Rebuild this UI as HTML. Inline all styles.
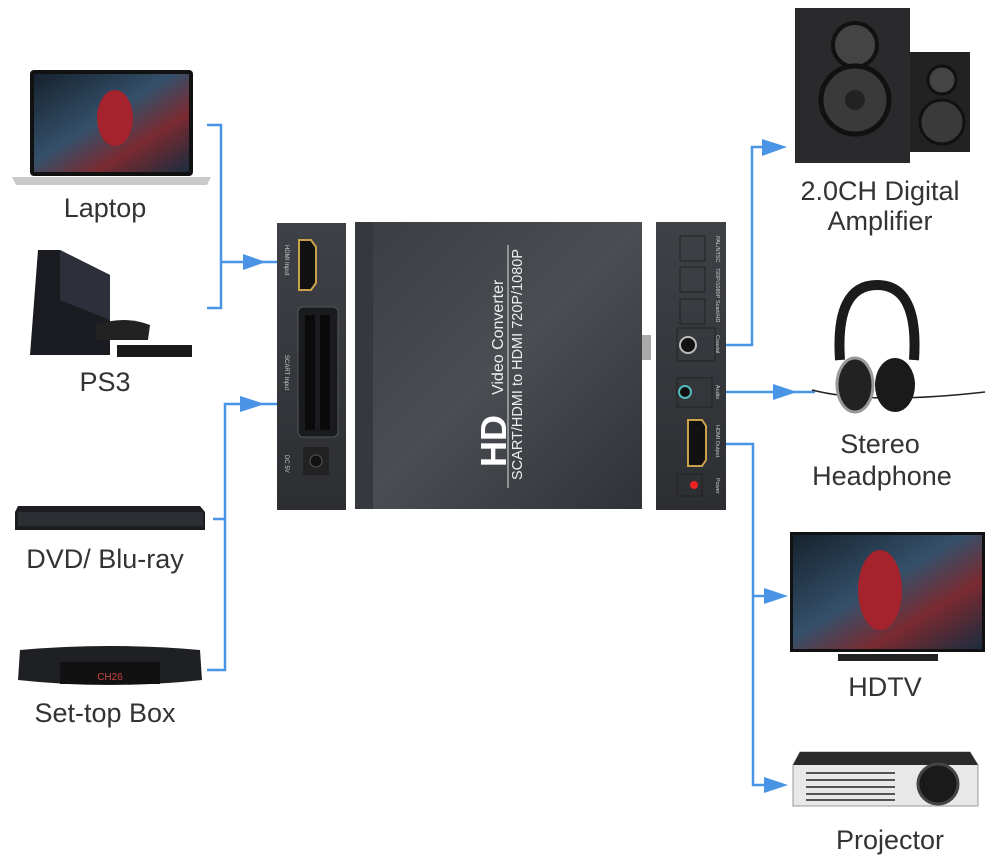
<!DOCTYPE html>
<html><head><meta charset="utf-8"><style>
html,body{margin:0;padding:0;background:#fff}
svg{display:block}
text{font-family:"Liberation Sans",sans-serif}
</style></head><body>
<svg width="999" height="867" viewBox="0 0 999 867" xmlns="http://www.w3.org/2000/svg">
<defs>
<linearGradient id="scr" x1="0" y1="0" x2="1" y2="1">
<stop offset="0" stop-color="#16222e"/><stop offset="0.45" stop-color="#34506a"/><stop offset="0.7" stop-color="#7a2a30"/><stop offset="1" stop-color="#1a2c3e"/>
</linearGradient>
<linearGradient id="box" x1="0" y1="0" x2="1" y2="1">
<stop offset="0" stop-color="#3a3d42"/><stop offset="0.5" stop-color="#4a4d52"/><stop offset="1" stop-color="#2f3236"/>
</linearGradient>
<linearGradient id="panel" x1="0" y1="0" x2="0" y2="1">
<stop offset="0" stop-color="#3e4146"/><stop offset="1" stop-color="#2c2e32"/>
</linearGradient>
</defs>

<g stroke="#4a94e6" stroke-width="2.5" fill="none">
<polyline points="207,125 221,125 221,308 207,308"/>
<line x1="221" y1="262" x2="300" y2="262"/>
<polyline points="213,519 225,519"/>
<polyline points="207,670 225,670 225,404 310,404"/>
<polyline points="700,345 752,345 752,147 770,147"/>
<line x1="700" y1="392" x2="815" y2="392"/>
<polyline points="700,444 753,444 753,785 770,785"/>
<line x1="753" y1="596" x2="770" y2="596"/>
</g>
<g fill="#4a94e6">
<polygon points="243,254 243,270 266,262"/>
<polygon points="240,396 240,412 265,404"/>
<polygon points="762,139 762,156 787,147"/>
<polygon points="773,384 773,400 797,392"/>
<polygon points="764,588 764,604 788,596"/>
<polygon points="764,777 764,793 788,785"/>
</g>

<rect x="30" y="70" width="163" height="106" rx="4" fill="#111"/>
<rect x="34" y="74" width="155" height="98" fill="url(#scr)"/>
<ellipse cx="115" cy="118" rx="18" ry="28" fill="#a4232c"/>
<path d="M12,177 H211 L207,185 H16 Z" fill="#c9cacc"/>
<text x="105" y="217" font-size="27" text-anchor="middle" fill="#333">Laptop</text>

<path d="M38,250 L60,250 L110,275 L110,355 L30,355 Z" fill="#1b1c22"/>
<path d="M60,250 L110,275 L110,320 L60,300 Z" fill="#2d2f3a"/>
<path d="M95,325 Q125,315 150,325 L148,340 L97,340 Z" fill="#222"/>
<rect x="117" y="345" width="75" height="12" fill="#1a1a1a"/>
<text x="105" y="391" font-size="27" text-anchor="middle" fill="#333">PS3</text>

<path d="M18,506 L200,506 L205,512 L205,530 L15,530 L15,512 Z" fill="#1c1d20"/>
<rect x="18" y="512" width="185" height="14" fill="#2c2e33"/>
<text x="105" y="568" font-size="27" text-anchor="middle" fill="#333">DVD/ Blu-ray</text>

<path d="M20,650 Q110,642 200,650 L202,680 Q110,690 18,680 Z" fill="#1f2024"/>
<rect x="60" y="662" width="100" height="22" fill="#111"/>
<text x="110" y="680" font-size="10" fill="#c44" text-anchor="middle">CH26</text>
<text x="105" y="722" font-size="27" text-anchor="middle" fill="#333">Set-top Box</text>

<rect x="277" y="223" width="69" height="287" fill="url(#panel)"/>
<path d="M299,240 L311,240 L316,247 L316,283 L311,290 L299,290 Z" fill="#111" stroke="#c9a24a" stroke-width="2"/>
<rect x="298" y="307" width="40" height="130" rx="5" fill="#1a1b1e" stroke="#555"/>
<g fill="#0a0a0a">
<rect x="305" y="315" width="10" height="115"/><rect x="320" y="315" width="10" height="115"/>
</g>
<rect x="303" y="447" width="26" height="28" fill="#222"/>
<circle cx="316" cy="461" r="6" fill="#111" stroke="#555"/>
<text transform="translate(285,245) rotate(90)" font-size="6" fill="#ccc">HDMI Input</text>
<text transform="translate(285,355) rotate(90)" font-size="6" fill="#ccc">SCART Input</text>
<text transform="translate(285,455) rotate(90)" font-size="6" fill="#ccc">DC 5V</text>

<rect x="355" y="222" width="287" height="287" fill="url(#box)"/>
<rect x="355" y="222" width="18" height="287" fill="#35383c"/>
<rect x="642" y="335" width="9" height="25" fill="#aaa"/>
<text transform="translate(506,467) rotate(-90)" font-size="36" font-weight="bold" fill="#fff">HD</text>
<text transform="translate(503,395) rotate(-90)" font-size="16" fill="#eee">Video Converter</text>
<text transform="translate(522,480) rotate(-90)" font-size="14.5" fill="#eee">SCART/HDMI to HDMI 720P/1080P</text>
<line x1="508" y1="245" x2="508" y2="488" stroke="#ddd" stroke-width="1"/>

<rect x="656" y="222" width="70" height="288" fill="url(#panel)"/>
<g fill="none" stroke="#222">
<rect x="680" y="236" width="25" height="25"/><rect x="680" y="267" width="25" height="25"/><rect x="680" y="299" width="25" height="25"/>
<rect x="677" y="328" width="38" height="33"/><rect x="677" y="378" width="35" height="29"/>
<rect x="677" y="474" width="25" height="22"/>
</g>
<circle cx="688" cy="345" r="8" fill="#111" stroke="#bbb" stroke-width="2"/>
<circle cx="685" cy="392" r="6" fill="#111" stroke="#5bb" stroke-width="2"/>
<path d="M688,420 L702,420 L706,426 L706,460 L702,466 L688,466 Z" fill="#111" stroke="#c9a24a" stroke-width="2"/>
<circle cx="694" cy="485" r="4" fill="#e22"/>
<g font-size="5.5" fill="#ccc">
<text transform="translate(716,236) rotate(90)">PAL/NTSC</text>
<text transform="translate(716,268) rotate(90)">720P/1080P</text>
<text transform="translate(716,300) rotate(90)">Scart/HD</text>
<text transform="translate(716,335) rotate(90)">Coaxial</text>
<text transform="translate(716,385) rotate(90)">Audio</text>
<text transform="translate(716,425) rotate(90)">HDMI Output</text>
<text transform="translate(716,478) rotate(90)">Power</text>
</g>

<rect x="910" y="52" width="60" height="100" fill="#222"/>
<circle cx="942" cy="80" r="14" fill="#444" stroke="#111" stroke-width="3"/>
<circle cx="942" cy="122" r="22" fill="#3a3a3a" stroke="#111" stroke-width="3"/>
<rect x="795" y="8" width="115" height="155" fill="#2a2a2c"/>
<circle cx="855" cy="45" r="22" fill="#444" stroke="#111" stroke-width="4"/>
<circle cx="855" cy="100" r="34" fill="#3a3a3a" stroke="#111" stroke-width="5"/>
<circle cx="855" cy="100" r="10" fill="#222"/>
<text x="880" y="200" font-size="27" text-anchor="middle" fill="#333">2.0CH Digital</text>
<text x="880" y="230" font-size="27" text-anchor="middle" fill="#333">Amplifier</text>

<path d="M840,360 Q835,285 877,285 Q919,285 914,360" fill="none" stroke="#1b1b1b" stroke-width="10"/>
<path d="M812,390 Q870,405 985,392" fill="none" stroke="#222" stroke-width="1.5"/>
<ellipse cx="855" cy="385" rx="18" ry="27" fill="#222" stroke="#999" stroke-width="3"/>
<ellipse cx="895" cy="385" rx="20" ry="27" fill="#1a1a1a"/>
<text x="880" y="453" font-size="27" text-anchor="middle" fill="#333">Stereo</text>
<text x="882" y="485" font-size="27" text-anchor="middle" fill="#333">Headphone</text>

<rect x="790" y="532" width="195" height="120" fill="#111"/>
<rect x="793" y="535" width="189" height="114" fill="url(#scr)"/>
<ellipse cx="880" cy="590" rx="22" ry="40" fill="#a4232c"/>
<rect x="838" y="654" width="100" height="7" fill="#222"/>
<text x="885" y="696" font-size="27" text-anchor="middle" fill="#333">HDTV</text>

<path d="M800,752 L970,752 L978,765 L978,806 L793,806 L793,765 Z" fill="#e8e8e8" stroke="#999"/>
<path d="M800,752 L970,752 L978,765 L793,765 Z" fill="#2a2a2a"/>
<g stroke="#222" stroke-width="1.5"><line x1="806" y1="773" x2="895" y2="773"/><line x1="806" y1="780" x2="895" y2="780"/><line x1="806" y1="787" x2="895" y2="787"/><line x1="806" y1="794" x2="895" y2="794"/><line x1="806" y1="800" x2="895" y2="800"/></g>
<circle cx="938" cy="784" r="20" fill="#1a1a1a" stroke="#444" stroke-width="3"/>
<text x="890" y="849" font-size="27" text-anchor="middle" fill="#333">Projector</text>
</svg>
</body></html>
